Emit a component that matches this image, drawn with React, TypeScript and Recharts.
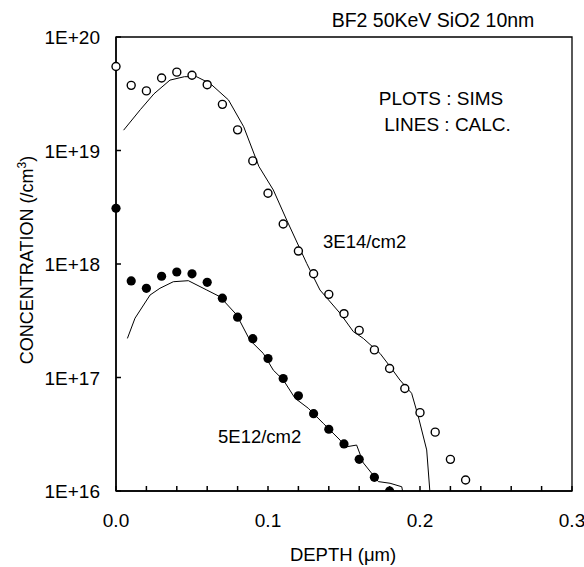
import { ComposedChart, Line, Scatter, XAxis, YAxis, ReferenceArea } from 'recharts';

const FONT = '"Liberation Sans", Arial, Helvetica, sans-serif';

// tick labels
const depthTicks = [0, 0.02, 0.04, 0.06, 0.08, 0.1, 0.12, 0.14, 0.16, 0.18, 0.2, 0.22, 0.24, 0.26, 0.28, 0.3];
const concTicks = [1e16, 1e17, 1e18, 1e19, 1e20];

// SIMS 3E14/cm2 (open circles)
const sims3e14Depth = [0, 0.01, 0.02, 0.03, 0.04, 0.05, 0.06, 0.07, 0.08, 0.09, 0.1, 0.11, 0.12, 0.13, 0.14, 0.15, 0.16, 0.17, 0.18, 0.19, 0.2, 0.21, 0.22, 0.23];
const sims3e14Conc = [5.5e19, 3.75e19, 3.35e19, 4.35e19, 4.9e19, 4.6e19, 3.8e19, 2.55e19, 1.52e19, 8.1e18, 4.2e18, 2.25e18, 1.3e18, 8.2e17, 5.4e17, 3.65e17, 2.6e17, 1.75e17, 1.2e17, 8.0e16, 4.9e16, 3.3e16, 1.9e16, 1.25e16];

// SIMS 5E12/cm2 (filled circles)
const sims5e12Depth = [0, 0.01, 0.02, 0.03, 0.04, 0.05, 0.06, 0.07, 0.08, 0.09, 0.1, 0.11, 0.12, 0.13, 0.14, 0.15, 0.16, 0.17, 0.18];
const sims5e12Conc = [3.1e18, 7.1e17, 6.1e17, 7.8e17, 8.5e17, 8.2e17, 6.9e17, 5.0e17, 3.4e17, 2.2e17, 1.47e17, 9.8e16, 6.9e16, 4.8e16, 3.5e16, 2.6e16, 1.9e16, 1.32e16, 1.0e16];

// calculated 3E14/cm2
const calc3e14Depth = [0.005, 0.016, 0.025, 0.0355, 0.045, 0.053, 0.062, 0.074, 0.084, 0.094, 0.1035, 0.1123, 0.1255, 0.1342, 0.1474, 0.1561, 0.1627, 0.1737, 0.1803, 0.1868, 0.1945, 0.1989, 0.2044, 0.2066];
const calc3e14Conc = [1.51e19, 2.29e19, 3.16e19, 4.17e19, 4.47e19, 4.47e19, 3.89e19, 2.79e19, 1.62e19, 7.24e18, 4.49e18, 2.44e18, 1.01e18, 5.9e17, 3.68e17, 2.54e17, 2.21e17, 1.63e17, 1.25e17, 9.5e16, 7.26e16, 4.52e16, 2.3e16, 9.5e15];

// calculated 5E12/cm2
const calc5e12Depth = [0.0075, 0.0125, 0.0224, 0.0289, 0.0377, 0.0476, 0.0597, 0.0684, 0.0794, 0.088, 0.0969, 0.1035, 0.1101, 0.1178, 0.1265, 0.1364, 0.1474, 0.1507, 0.1583, 0.1627, 0.1726, 0.1803, 0.188, 0.1891];
const calc5e12Conc = [2.21e17, 3.33e17, 5.33e17, 6.11e17, 6.98e17, 7.13e17, 5.9e17, 5.15e17, 3.56e17, 2.14e17, 1.63e17, 1.16e17, 9.5e16, 6.56e16, 5.36e16, 3.94e16, 2.81e16, 2.44e16, 2.54e16, 1.77e16, 1.21e16, 1.17e16, 1.09e16, 9.1e15];

const toPoints = (xs: number[], ys: number[]) => xs.map((x, i) => ({ x, y: ys[i] }));

function DepthTick(props: any) {
  const { x, y, payload } = props;
  const v = payload.value as number;
  const major = Math.abs(v * 10 - Math.round(v * 10)) < 1e-6;
  return (
    <g>
      <line x1={x} y1={y} x2={x} y2={y - 5} stroke="#000" strokeWidth={1.5} />
      {major && (
        <text x={x} y={y + 36} textAnchor="middle" fontSize={19} fontFamily={FONT} fill="#000">
          {v.toFixed(1)}
        </text>
      )}
    </g>
  );
}

function ConcTick(props: any) {
  const { x, y, payload } = props;
  const exp = Math.round(Math.log10(payload.value));
  return (
    <g>
      <line x1={x} y1={y} x2={x + 5} y2={y} stroke="#000" strokeWidth={1.5} />
      <text x={x - 16} y={y + 7} textAnchor="end" fontSize={19} fontFamily={FONT} fill="#000">
        {`1E+${exp}`}
      </text>
    </g>
  );
}

const OpenDot = (p: any) => <circle cx={p.cx} cy={p.cy} r={4} fill="#fff" stroke="#000" strokeWidth={1.4} />;
const FilledDot = (p: any) => <circle cx={p.cx} cy={p.cy} r={4.6} fill="#000" />;

export default function App() {
  const txt = { fontFamily: FONT, fontSize: 18, fill: '#000' };
  return (
    <div style={{ position: 'absolute', left: 0, top: 0, width: 584, height: 567, background: '#fff' }}>
      <ComposedChart width={584} height={567} margin={{ top: 37, right: 12, left: 0, bottom: 0 }}>
        <XAxis
          dataKey="x"
          type="number"
          domain={[0, 0.3]}
          ticks={depthTicks}
          interval={0}
          height={76}
          tickSize={0}
          tickMargin={0}
          tickLine={false}
          axisLine={{ stroke: '#000', strokeWidth: 1.5 }}
          tick={<DepthTick />}
        />
        <YAxis
          dataKey="y"
          type="number"
          scale="log"
          domain={[1e16, 1e20]}
          allowDataOverflow
          ticks={concTicks}
          interval={0}
          width={116}
          tickSize={0}
          tickMargin={0}
          tickLine={false}
          axisLine={{ stroke: '#000', strokeWidth: 1.5 }}
          tick={<ConcTick />}
        />
        <ReferenceArea x1={0} x2={0.3} y1={1e16} y2={1e20} fill="none" stroke="#000" strokeWidth={1.3} />
        <Line data={toPoints(calc3e14Depth, calc3e14Conc)} dataKey="y" type="linear" stroke="#000" strokeWidth={1} dot={false} isAnimationActive={false} />
        <Line data={toPoints(calc5e12Depth, calc5e12Conc)} dataKey="y" type="linear" stroke="#000" strokeWidth={1} dot={false} isAnimationActive={false} />
        <Scatter data={toPoints(sims3e14Depth, sims3e14Conc)} dataKey="y" shape={OpenDot} isAnimationActive={false} />
        <Scatter data={toPoints(sims5e12Depth, sims5e12Conc)} dataKey="y" shape={FilledDot} isAnimationActive={false} />
      </ComposedChart>
      <svg width={584} height={567} style={{ position: 'absolute', left: 0, top: 0, pointerEvents: 'none' }}>
        <text x={433} y={27} textAnchor="middle" {...txt} fontSize={19.5}>BF2 50KeV SiO2 10nm</text>
        <text x={441} y={105} textAnchor="middle" {...txt} fontSize={19}>PLOTS : SIMS</text>
        <text x={447.5} y={130.5} textAnchor="middle" {...txt} fontSize={19}>LINES : CALC.</text>
        <text x={323} y={248} {...txt} fontSize={18.5}>3E14/cm2</text>
        <text x={218} y={443} {...txt} fontSize={18.5}>5E12/cm2</text>
        <text x={343} y={561} textAnchor="middle" {...txt} fontSize={18.5}>DEPTH (μm)</text>
        <text transform="translate(33,260) rotate(-90)" textAnchor="middle" {...txt}>
          CONCENTRATION (/cm<tspan dy={-7} fontSize={12}>3</tspan>
          <tspan dy={7}>)</tspan>
        </text>
      </svg>
    </div>
  );
}
